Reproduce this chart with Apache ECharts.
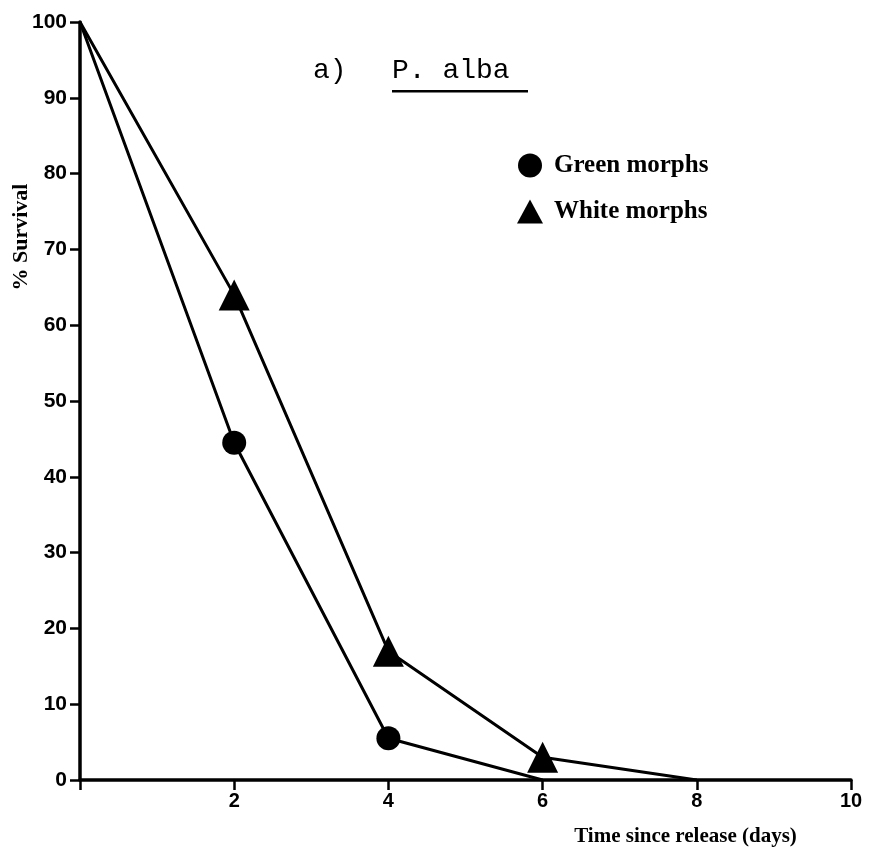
<!DOCTYPE html>
<html>
<head>
<meta charset="utf-8">
<script src="https://cdn.jsdelivr.net/npm/echarts@6/dist/echarts.min.js"></script>
<style>
html,body{margin:0;padding:0;background:#fff;}
#chart{width:876px;height:859px;}
</style>
</head>
<body>
<div id="chart"></div>
<script>
var days = [0, 2, 4, 6, 8];
var greenMorphs = [100, 44.5, 5.5, 0];
var whiteMorphs = [100, 64, 17, 3, 0];
var xTicks = [0, 2, 4, 6, 8, 10];
var yTicks = [0, 10, 20, 30, 40, 50, 60, 70, 80, 90, 100];

function pairs(xs, ys) {
  return ys.map(function (v, i) { return [xs[i], v]; });
}

var chart = echarts.init(document.getElementById('chart'));
var ink = '#000';
chart.setOption({
  backgroundColor: '#fff',
  animation: false,
  grid: { left: 80, right: 25, top: 22, bottom: 79, containLabel: false, outerBoundsMode: 'none' },
  legend: {
    orient: 'vertical',
    left: 512,
    top: 148,
    itemWidth: 26,
    itemHeight: 24,
    itemGap: 21,
    data: [
      { name: 'Green morphs', icon: 'circle' },
      { name: 'White morphs', icon: 'triangle' }
    ],
    textStyle: { fontFamily: 'Liberation Serif', fontWeight: 'bold', fontSize: 25, color: ink, padding: [0, 0, 0, 6] }
  },
  graphic: [
    {
      type: 'text', left: 313, top: 57,
      style: { text: 'a)', fontFamily: 'Liberation Mono', fontSize: 28, fill: ink }
    },
    {
      type: 'text', left: 392, top: 57,
      style: { text: 'P. alba', fontFamily: 'Liberation Mono', fontSize: 28, fill: ink }
    },
    {
      type: 'rect', left: 392, top: 90,
      shape: { width: 136, height: 2.5 },
      style: { fill: ink }
    }
  ],
  xAxis: {
    type: 'value',
    min: 0, max: 10, interval: 2,
    name: 'Time since release (days)',
    nameLocation: 'middle',
    nameGap: 46,
    nameMoveOverlap: false,
    nameTextStyle: { fontFamily: 'Liberation Serif', fontWeight: 'bold', fontSize: 21, color: ink, padding: [0, 0, 0, 440] },
    axisLine: { show: true, lineStyle: { color: ink, width: 3.5 } },
    axisTick: { show: true, inside: false, length: 10, lineStyle: { color: ink, width: 2.5 } },
    axisLabel: {
      color: ink, fontFamily: 'Liberation Sans', fontWeight: 'bold', fontSize: 20, margin: 11,
      formatter: function (v) { return v === 0 ? '' : String(v); }
    },
    splitLine: { show: false }
  },
  yAxis: {
    type: 'value',
    min: 0, max: 100, interval: 10,
    name: '% Survival',
    nameLocation: 'middle',
    nameGap: 48,
    nameMoveOverlap: false,
    nameTextStyle: { fontFamily: 'Liberation Serif', fontWeight: 'bold', fontSize: 22, color: ink, padding: [0, 0, 0, 328] },
    axisLine: { show: true, lineStyle: { color: ink, width: 3.5 } },
    axisTick: { show: true, inside: false, length: 10, lineStyle: { color: ink, width: 2.5 } },
    axisLabel: { color: ink, fontFamily: 'Liberation Sans', fontWeight: 'bold', fontSize: 21, margin: 13 },
    splitLine: { show: false }
  },
  series: [
    {
      name: 'Green morphs',
      type: 'line',
      data: pairs(days, greenMorphs),
      symbol: 'circle',
      symbolSize: function (v) { return (v[0] === 0 || v[1] === 0) ? 0 : 24; },
      itemStyle: { color: ink },
      lineStyle: { color: ink, width: 3 },
      z: 3
    },
    {
      name: 'White morphs',
      type: 'line',
      data: pairs(days, whiteMorphs),
      symbol: 'triangle',
      symbolSize: function (v) { return (v[0] === 0 || v[1] === 0) ? 0 : 31; },
      itemStyle: { color: ink },
      lineStyle: { color: ink, width: 3 },
      z: 3
    }
  ]
});
</script>
</body>
</html>
